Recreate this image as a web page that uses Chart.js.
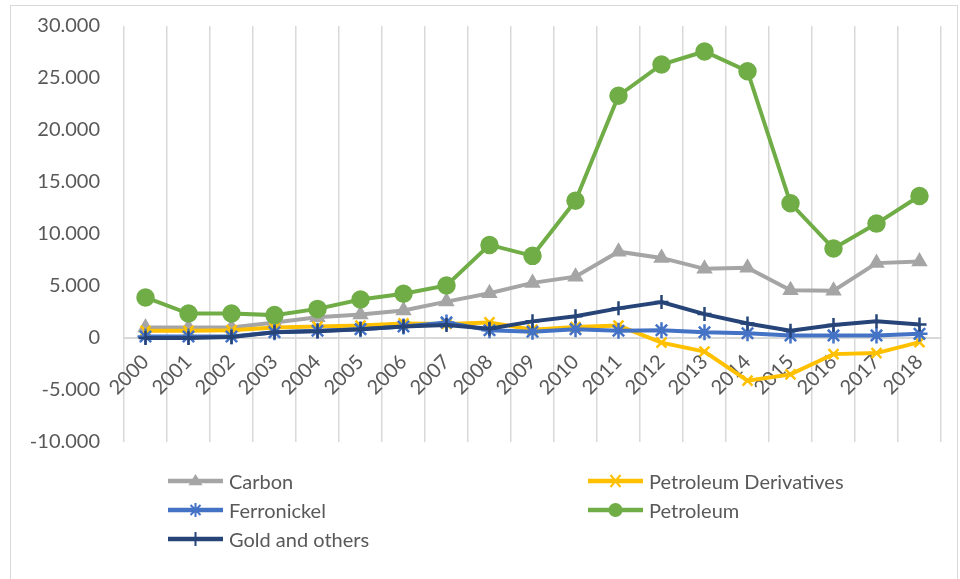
<!DOCTYPE html>
<html>
<head>
<meta charset="utf-8">
<script src="https://cdn.jsdelivr.net/npm/chart.js@4.4.1/dist/chart.umd.min.js"></script>
<style>
body { margin: 0; background: #fff; font-family: Lato, "Open Sans", sans-serif; }
#wrap { position: relative; width: 960px; height: 579px; overflow: hidden; }
#frame { position: absolute; left: 10px; top: 5px; width: 948px; height: 600px; border: 1px solid #d9d9d9; box-sizing: border-box; }
#chartBox { position: absolute; left: 0; top: -2px; width: 960px; height: 579px; }
#legend { position: absolute; left: 168px; top: 466px; display: grid; grid-template-columns: 420px 300px; }
.item { display: flex; align-items: center; height: 29px; color: #595959; font-size: 20px; }
.item canvas { margin-right: 6px; }
</style>
</head>
<body>
<div id="wrap">
  <div id="frame"></div>
  <div id="chartBox"><canvas id="myChart"></canvas></div>
  <div id="legend"></div>
</div>
<script>
// 年（カテゴリ）
const years = ['2000','2001','2002','2003','2004','2005','2006','2007','2008','2009',
               '2010','2011','2012','2013','2014','2015','2016','2017','2018'];

// 各系列の値
const carbon = [1000, 1000, 1000, 1500, 2000, 2250, 2650, 3500, 4300, 5300,
                5900, 8300, 7700, 6650, 6750, 4600, 4550, 7200, 7350];
const petroleumDerivatives = [700, 700, 750, 1000, 1100, 1200, 1400, 1350, 1500, 800,
                              1050, 1200, -450, -1300, -4100, -3500, -1550, -1450, -400];
const ferronickel = [150, 150, 150, 550, 700, 850, 1100, 1500, 750, 600,
                     850, 700, 750, 550, 450, 250, 250, 250, 400];
const petroleum = [3900, 2350, 2350, 2200, 2800, 3700, 4250, 5050, 8950, 7900,
                   13200, 23300, 26300, 27550, 25650, 12950, 8600, 11000, 13650];
const goldOthers = [0, 0, 100, 550, 650, 850, 1100, 1250, 900, 1600,
                    2100, 2850, 3450, 2300, 1400, 700, 1250, 1600, 1300];

// y軸の目盛り
const yMin = -10000;
const yMax = 30000;
const yStep = 5000;

const seriesNames = ['Carbon', 'Petroleum Derivatives', 'Ferronickel', 'Petroleum', 'Gold and others'];
const seriesData = [carbon, petroleumDerivatives, ferronickel, petroleum, goldOthers];
const colormap = ['#a5a5a5', '#ffc000', '#4472c4', '#70ad47', '#264478'];
const markers = ['triangle', 'crossRot', 'star', 'circle', 'cross'];
const markerSize = [7, 7, 8, 8, 7];

// 千の位を「.」で区切る
function formatNumber(v) {
    const s = String(Math.abs(v)).replace(/\B(?=(\d{3})+(?!\d))/g, '.');
    return (v < 0 ? '-' : '') + s;
}

function createDataset(i) {
    return {
        label: seriesNames[i],
        data: seriesData[i],
        borderColor: colormap[i],
        backgroundColor: colormap[i],
        borderWidth: 4,
        pointStyle: markers[i],
        pointRadius: markerSize[i],
        pointBorderWidth: 2.5,
        pointBackgroundColor: colormap[i],
        pointBorderColor: colormap[i],
        tension: 0,
        order: seriesNames.length - i
    };
}

const datasets = [];
for (let i = 0; i < seriesNames.length; i++) {
    datasets.push(createDataset(i));
}

const ctx = document.getElementById('myChart');
const myGraph = new Chart(ctx, {
    type: 'line',
    data: { labels: years, datasets: datasets },
    options: {
        responsive: true,
        maintainAspectRatio: false,
        animation: false,
        layout: { padding: { left: 10, right: 19, top: 1, bottom: 135 } },
        plugins: {
            legend: { display: false },
            tooltip: { enabled: false }
        },
        scales: {
            x: {
                position: { y: 0 },
                offset: true,
                grid: { offset: true, color: '#d9d9d9', lineWidth: 1.5, drawTicks: false },
                border: { display: true, color: '#d9d9d9', width: 2 },
                ticks: {
                    autoSkip: false,
                    minRotation: 45,
                    maxRotation: 45,
                    padding: 12,
                    color: '#595959',
                    font: { family: 'Lato', size: 20 }
                }
            },
            y: {
                min: yMin,
                max: yMax,
                grid: { display: false },
                border: { display: false },
                afterFit: function (scale) { scale.width = 114; },
                ticks: {
                    stepSize: yStep,
                    padding: 16,
                    color: '#595959',
                    font: { family: 'Lato', size: 20 },
                    callback: function (v) { return formatNumber(v); }
                }
            }
        }
    }
});

// 凡例の記号を描く
function drawIcon(canvas, i) {
    const c = canvas.getContext('2d');
    const w = canvas.width, h = canvas.height, cx = w / 2, cy = h / 2;
    c.strokeStyle = colormap[i];
    c.fillStyle = colormap[i];
    c.lineWidth = 4.5;
    c.beginPath(); c.moveTo(0, cy); c.lineTo(w, cy); c.stroke();
    c.lineWidth = 2;
    const r = 7;
    c.beginPath();
    if (markers[i] === 'triangle') {
        c.moveTo(cx, cy - r); c.lineTo(cx + r, cy + r * 0.6); c.lineTo(cx - r, cy + r * 0.6); c.closePath(); c.fill();
    } else if (markers[i] === 'circle') {
        c.arc(cx, cy, 7, 0, Math.PI * 2); c.fill();
    } else if (markers[i] === 'crossRot') {
        c.moveTo(cx - 5, cy - 6); c.lineTo(cx + 5, cy + 6); c.moveTo(cx + 5, cy - 6); c.lineTo(cx - 5, cy + 6); c.stroke();
    } else if (markers[i] === 'star') {
        c.moveTo(cx, cy - 7); c.lineTo(cx, cy + 7);
        c.moveTo(cx - 5, cy - 5); c.lineTo(cx + 5, cy + 5); c.moveTo(cx + 5, cy - 5); c.lineTo(cx - 5, cy + 5); c.stroke();
    } else if (markers[i] === 'cross') {
        c.moveTo(cx, cy - 7); c.lineTo(cx, cy + 7); c.stroke();
    }
}

// 凡例（2列）
const legendOrder = [0, 1, 2, 3, 4];
const legendBox = document.getElementById('legend');
legendOrder.forEach(function (i) {
    const item = document.createElement('div');
    item.className = 'item';
    const icon = document.createElement('canvas');
    icon.width = 55; icon.height = 18;
    drawIcon(icon, i);
    const text = document.createElement('span');
    text.textContent = seriesNames[i];
    item.appendChild(icon);
    item.appendChild(text);
    legendBox.appendChild(item);
});
</script>
</body>
</html>
